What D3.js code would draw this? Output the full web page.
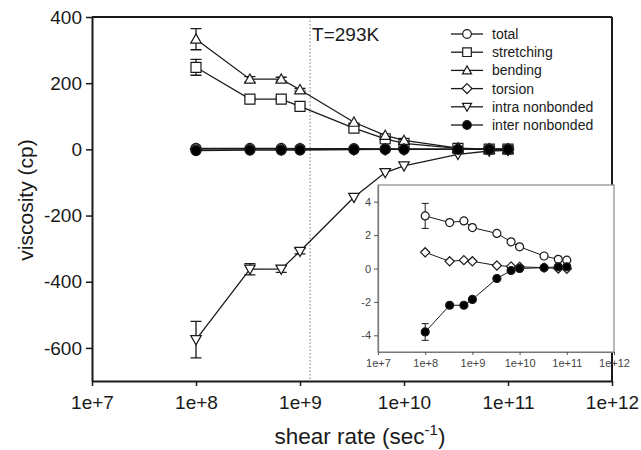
<!DOCTYPE html>
<html><head><meta charset="utf-8">
<script src="https://cdn.jsdelivr.net/npm/d3@7"></script>
<style>html,body{margin:0;padding:0;background:#fff;}svg{display:block;}</style>
</head><body>
<svg id="chart" width="641" height="450"></svg>
<script>
// ---- data ----
const shearRates = [1e8, 3.3e8, 6.6e8, 1e9, 3.3e9, 6.6e9, 1e10, 3.3e10, 6.6e10, 1e11];
const total      = [3.15, 2.75, 2.85, 2.45, 2.1, 1.6, 1.3, 0.75, 0.55, 0.5];
const totalErr   = [0.75, 0, 0, 0, 0, 0, 0, 0, 0, 0];
const stretching = [248, 152, 152, 130, 64, 32, 18, 3, 1, 0.5];
const stretchErr = [24, 5, 4, 4, 0, 0, 0, 0, 0, 0];
const bending    = [333, 212, 212, 180, 82, 42, 27, 4, 1, 0.5];
const bendErr    = [32, 8, 6, 4, 0, 0, 0, 0, 0, 0];
const torsion    = [0.97, 0.43, 0.5, 0.43, 0.18, 0.12, 0.1, 0.05, 0.0, -0.02];
const intra      = [-575, -362, -362, -308, -145, -70, -50, -15, -5, -3];
const intraErr   = [55, 17, 10, 8, 0, 0, 0, 0, 0, 0];
const inter      = [-3.8, -2.2, -2.2, -1.85, -0.6, -0.12, 0.0, 0.05, 0.1, 0.1];
const interErr   = [0.5, 0, 0, 0, 0, 0, 0, 0, 0, 0];
const seriesNames = ["total", "stretching", "bending", "torsion", "intra nonbonded", "inter nonbonded"];
const xTicks = [1e7, 1e8, 1e9, 1e10, 1e11, 1e12];
const yTicksMain = [-600, -400, -200, 0, 200, 400];
const yTicksInset = [-4, -2, 0, 2, 4];
const tempLabel = "T=293K";
const tempRate = 1.25e9;

const series = [
  {name: seriesNames[0], vals: total, err: totalErr, sym: "circle", fill: "#fff"},
  {name: seriesNames[1], vals: stretching, err: stretchErr, sym: "square", fill: "#fff"},
  {name: seriesNames[2], vals: bending, err: bendErr, sym: "triUp", fill: "#fff"},
  {name: seriesNames[3], vals: torsion, err: null, sym: "diamond", fill: "#fff"},
  {name: seriesNames[4], vals: intra, err: intraErr, sym: "triDown", fill: "#fff"},
  {name: seriesNames[5], vals: inter, err: interErr, sym: "circle", fill: "#000"}
];
const insetSeries = [series[0], series[3], series[5]];

const FONT = "'Liberation Sans', Arial, Helvetica, sans-serif";
const INK = "#1a1a1a";
const svg = d3.select("#chart");

function symPath(type, s) {
  switch (type) {
    case "circle": return d3.symbol(d3.symbolCircle, Math.PI * s * s)();
    case "square": return `M${-s},${-s}H${s}V${s}H${-s}Z`;
    case "triUp": return `M0,${-s * 1.05}L${s * 1.05},${s * 0.8}L${-s * 1.05},${s * 0.8}Z`;
    case "triDown": return `M0,${s * 1.05}L${s * 1.05},${-s * 0.8}L${-s * 1.05},${-s * 0.8}Z`;
    case "diamond": return `M0,${-s * 1.15}L${s * 1.15},0L0,${s * 1.15}L${-s * 1.15},0Z`;
  }
}
const fmtExp = d => "1e+" + Math.round(Math.log10(d));
const fmtNum = d => String(d);

// ---- main chart ----
const x = d3.scaleLog().domain([1e7, 1e12]).range([92, 612]);
const y = d3.scaleLinear().domain([-700, 400]).range([381, 17]);

svg.append("line").attr("x1", x(tempRate)).attr("x2", x(tempRate))
  .attr("y1", y(400)).attr("y2", y(-700))
  .attr("stroke", "#777").attr("stroke-width", 1).attr("stroke-dasharray", "1.5,2");
svg.append("text").attr("x", x(tempRate) + 2).attr("y", 41)
  .attr("font-family", FONT).attr("font-size", 19).attr("fill", INK).text(tempLabel);

svg.append("line").attr("x1", x(1e7)).attr("x2", x(1e12)).attr("y1", y(400)).attr("y2", y(400))
  .attr("stroke", INK).attr("stroke-width", 2);
svg.append("line").attr("x1", x(1e12)).attr("x2", x(1e12)).attr("y1", y(400)).attr("y2", y(-700))
  .attr("stroke", INK).attr("stroke-width", 2);

function styleAxis(g, fs, color, sw) {
  g.select(".domain").attr("stroke", color).attr("stroke-width", sw);
  g.selectAll(".tick line").attr("stroke", color).attr("stroke-width", sw * 0.75);
  g.selectAll(".tick text").attr("font-family", FONT).attr("font-size", fs).attr("fill", color);
}

const gx = svg.append("g").attr("transform", `translate(0,${y(-700)})`)
  .call(d3.axisBottom(x).tickValues(xTicks).tickFormat(fmtExp).tickSize(5).tickSizeOuter(0).tickPadding(10));
styleAxis(gx, 19, INK, 2);
const gy = svg.append("g").attr("transform", `translate(${x(1e7)},0)`)
  .call(d3.axisLeft(y).tickValues(yTicksMain).tickFormat(fmtNum).tickSize(6).tickSizeOuter(0).tickPadding(4));
styleAxis(gy, 19, INK, 2);

const xt = svg.append("text").attr("x", 360).attr("y", 444).attr("text-anchor", "middle")
  .attr("font-family", FONT).attr("font-size", 22.5).attr("fill", INK);
xt.append("tspan").text("shear rate (sec");
xt.append("tspan").attr("dy", -9).attr("font-size", 15).text("-1");
xt.append("tspan").attr("dy", 9).text(")");
svg.append("text").attr("transform", `translate(33,200) rotate(-90)`).attr("text-anchor", "middle")
  .attr("font-family", FONT).attr("font-size", 21).attr("fill", INK).text("viscosity (cp)");

function drawSeries(g, sx, sy, s, size, capW, lw) {
  const pts = shearRates.map((r, i) => ({r, v: s.vals[i], e: s.err ? s.err[i] : 0}));
  g.append("path").datum(pts)
    .attr("d", d3.line().x(d => sx(d.r)).y(d => sy(d.v)))
    .attr("fill", "none").attr("stroke", INK).attr("stroke-width", lw);
  const eb = g.append("g");
  pts.filter(d => d.e > 0).forEach(d => {
    const cx = sx(d.r), y1 = sy(d.v + d.e), y2 = sy(d.v - d.e);
    eb.append("path").attr("d", `M${cx},${y1}V${y2}M${cx - capW},${y1}H${cx + capW}M${cx - capW},${y2}H${cx + capW}`)
      .attr("stroke", INK).attr("stroke-width", lw).attr("fill", "none");
  });
  g.append("g").selectAll("path").data(pts).join("path")
    .attr("transform", d => `translate(${sx(d.r)},${sy(d.v)})`)
    .attr("d", symPath(s.sym, size))
    .attr("fill", s.fill).attr("stroke", INK).attr("stroke-width", 1.2);
}

const gm = svg.append("g");
series.forEach(s => drawSeries(gm, x, y, s, 5, 5.5, 1.3));

const lg = svg.append("g");
series.forEach((s, i) => {
  const cy = 34 + i * 18.2;
  lg.append("line").attr("x1", 451).attr("x2", 483).attr("y1", cy).attr("y2", cy)
    .attr("stroke", INK).attr("stroke-width", 1.3);
  lg.append("path").attr("transform", `translate(467,${cy})`).attr("d", symPath(s.sym, 4.3))
    .attr("fill", s.fill).attr("stroke", INK).attr("stroke-width", 1.2);
  lg.append("text").attr("x", 492).attr("y", cy + 5).attr("font-family", FONT).attr("font-size", 14)
    .attr("fill", INK).text(s.name);
});

// ---- inset ----
const xi = d3.scaleLog().domain([1e7, 1e12]).range([378, 614]);
const yi = d3.scaleLinear().domain([-5, 5]).range([352, 185]);
const gi = svg.append("g");
gi.append("rect").attr("x", xi(1e7)).attr("y", yi(5)).attr("width", xi(1e12) - xi(1e7)).attr("height", yi(-5) - yi(5))
  .attr("fill", "#fff").attr("stroke", "#888").attr("stroke-width", 1.2);
const gix = gi.append("g").attr("transform", `translate(0,${yi(-5)})`)
  .call(d3.axisBottom(xi).tickValues(xTicks).tickFormat(fmtExp).tickSize(3).tickSizeOuter(0).tickPadding(4));
styleAxis(gix, 11, "#444", 1.2);
gix.select(".domain").attr("stroke", "#777");
const giy = gi.append("g").attr("transform", `translate(${xi(1e7)},0)`)
  .call(d3.axisLeft(yi).tickValues(yTicksInset).tickFormat(fmtNum).tickSize(4).tickSizeOuter(0).tickPadding(3));
styleAxis(giy, 11, "#444", 1.2);
giy.select(".domain").attr("stroke", "#777");
insetSeries.forEach(s => drawSeries(gi, xi, yi, s, 4, 3.5, 1));
</script>
</body></html>
